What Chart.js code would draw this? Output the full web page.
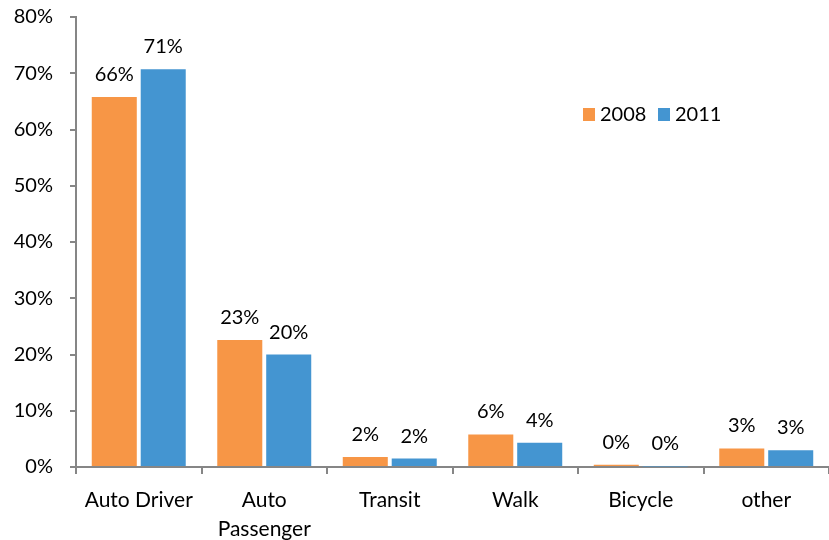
<!DOCTYPE html>
<html lang="en">

<head>
    <script src="https://cdn.jsdelivr.net/npm/chart.js@4.4.1/dist/chart.umd.min.js"></script>

    <style>
        body { margin: 0; background: #fff; }
        .chartCont { width: 829px; height: 540px; position: relative; }
    </style>
</head>

<body>
    <div class="chartCont">
        <canvas id="modeChart"></canvas>
    </div>

    <script>
        // travel mode share data
        const modes = ["Auto Driver", ["Auto", "Passenger"], "Transit", "Walk", "Bicycle", "other"];
        const years = ["2008", "2011"];
        const share2008 = [65.8, 22.6, 1.8, 5.8, 0.4, 3.3];
        const share2011 = [70.7, 20.0, 1.5, 4.3, 0.1, 3.0];
        const yMax = 80;
        const yStep = 10;

        const orange = '#F79646';
        const blue = '#4495D1';
        const axisGray = '#868686';
        const fontFamily = 'Lato, "Open Sans", sans-serif';

        // value labels above every bar
        const barLabels = {
            id: 'barLabels',
            afterDatasetsDraw(chart) {
                const ctx = chart.ctx;
                ctx.save();
                ctx.font = `20px ${fontFamily}`;
                ctx.fillStyle = '#000';
                ctx.textAlign = 'center';
                ctx.textBaseline = 'alphabetic';
                chart.data.datasets.forEach((ds, i) => {
                    chart.getDatasetMeta(i).data.forEach((bar, j) => {
                        ctx.fillText(Math.round(ds.data[j]) + '%', bar.x, bar.y - 16);
                    });
                });
                ctx.restore();
            }
        };

        // small legend inside the plot
        const insideLegend = {
            id: 'insideLegend',
            afterDraw(chart) {
                const ctx = chart.ctx;
                const area = chart.chartArea;
                let x = area.left + 507;
                const y = area.top + 97;
                ctx.save();
                ctx.font = `20px ${fontFamily}`;
                ctx.textBaseline = 'middle';
                ctx.textAlign = 'left';
                chart.data.datasets.forEach(ds => {
                    ctx.fillStyle = ds.backgroundColor;
                    ctx.fillRect(x, y - 6, 12, 13);
                    ctx.fillStyle = '#000';
                    ctx.fillText(ds.label, x + 17, y + 1);
                    x += 75;
                });
                ctx.restore();
            }
        };

        new Chart(document.getElementById('modeChart'), {
            type: 'bar',
            data: {
                labels: modes,
                datasets: [{
                    label: years[0],
                    data: share2008,
                    backgroundColor: orange,
                    categoryPercentage: 0.78,
                    barPercentage: 0.92
                }, {
                    label: years[1],
                    data: share2011,
                    backgroundColor: blue,
                    categoryPercentage: 0.78,
                    barPercentage: 0.92
                }]
            },
            options: {
                responsive: true,
                maintainAspectRatio: false,
                animation: false,
                layout: { padding: { top: 17, left: 0, right: 0, bottom: 0 } },
                plugins: {
                    legend: { display: false },
                    tooltip: { enabled: false }
                },
                scales: {
                    x: {
                        afterFit: s => { s.height = 73; },
                        grid: {
                            offset: true,
                            drawOnChartArea: false,
                            drawTicks: true,
                            tickLength: 7,
                            color: axisGray,
                            lineWidth: 2
                        },
                        border: { color: axisGray, width: 2 },
                        ticks: {
                            color: '#000',
                            padding: 12,
                            maxRotation: 0,
                            font: { family: fontFamily, size: 21, lineHeight: 1.38 }
                        }
                    },
                    y: {
                        min: 0,
                        max: yMax,
                        // keep the tick padding from pushing the plot down
                        afterFit: s => { s.width = 76; s.paddingTop = 0; s.paddingBottom = 0; },
                        grid: {
                            drawOnChartArea: false,
                            drawTicks: true,
                            tickLength: 6,
                            color: axisGray,
                            lineWidth: 2
                        },
                        border: { color: axisGray, width: 2 },
                        ticks: {
                            stepSize: yStep,
                            color: '#000',
                            padding: 17,
                            font: { family: fontFamily, size: 20 },
                            callback: v => v + '%'
                        }
                    }
                }
            },
            plugins: [barLabels, insideLegend]
        });
    </script>
</body>

</html>
